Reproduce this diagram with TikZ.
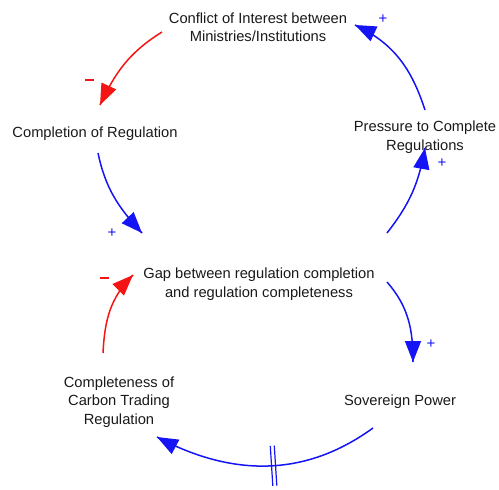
\documentclass[tikz,border=0pt]{standalone}
\usepackage{fontspec}
\setmainfont{Liberation Sans}
\usetikzlibrary{arrows.meta,decorations.markings}
\definecolor{lblue}{RGB}{20,20,245}
\definecolor{lred}{RGB}{245,20,20}
\begin{document}
\begin{tikzpicture}[x=1pt,y=1pt,
  var/.style={align=center,font=\fontsize{14.7}{18.5}\selectfont,inner sep=0pt,text=black!90},
  link/.style={line width=1.5pt,postaction={decorate,decoration={markings,
    mark=at position 1 with {\arrow{Triangle[length=21pt,width=16pt]}}}}},
  bluelink/.style={link,draw=lblue,color=lblue},
  redlink/.style={link,draw=lred,color=lred},
  signp/.style={text=lblue,font=\fontsize{15}{15}\selectfont,inner sep=0pt},
  signm/.style={fill=lred,minimum width=9pt,minimum height=1.4pt,inner sep=0pt},
  delay/.style={postaction={decorate,decoration={markings,
    mark=at position 0.47 with {\draw[line width=1.2pt,lblue] (-2,-20)--(-2,20) (2,-20)--(2,20);}}}}]
\useasboundingbox (0,0) rectangle (499,-490);
\node[var] (conf) at (258,-27) {Conflict of Interest between\\Ministries/Institutions};
\node[var] (compl) at (95,-134) {Completion of Regulation};
\node[var] (press) at (425,-137) {Pressure to Complete\\Regulations};
\node[var] (gap) at (259,-284) {Gap between regulation completion\\and regulation completeness};
\node[var] (sov) at (400,-402) {Sovereign Power};
\node[var] (cctr) at (119,-402) {Completeness of\\Carbon Trading\\Regulation};

\draw[redlink] ([shift={(-96,-5)}]conf.center) to[out=212,in=65] ([shift={(5,29)}]compl.center);
\draw[bluelink] ([shift={(3,-19)}]compl.center) to[out=-78,in=133] ([shift={(-117,51)}]gap.center);
\draw[bluelink] ([shift={(128,51)}]gap.center) to[out=52,in=-100] ([shift={(0,-11)}]press.center);
\draw[bluelink] ([shift={(0,27)}]press.center) to[out=108,in=-25] ([shift={(97,2)}]conf.center);
\draw[bluelink] ([shift={(128,2)}]gap.center) to[out=-49,in=90] ([shift={(13,40)}]sov.center);
\draw[bluelink,delay] ([shift={(-27,-26)}]sov.center) to[out=216,in=-28] ([shift={(38,-35)}]cctr.center);
\draw[redlink] ([shift={(-16,49)}]cctr.center) to[out=87,in=-135] ([shift={(-126,9)}]gap.center);

\node[signm] (m1) at (89,-80) {};
\node[signp] (p1) at (112,-233) {+};
\node[signp] (p2) at (442,-163) {+};
\node[signp] (p3) at (383,-19) {+};
\node[signp] (p4) at (431,-344) {+};
\node[signm] (m2) at (104,-278) {};
\end{tikzpicture}
\end{document}
